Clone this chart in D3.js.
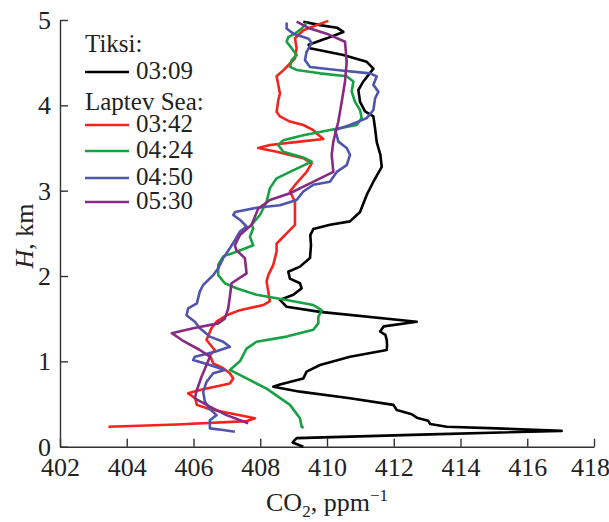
<!DOCTYPE html>
<html>
<head>
<meta charset="utf-8">
<script src="https://cdn.jsdelivr.net/npm/d3@7"></script>
<style>
  body { margin: 0; background: #fff; }
  svg text { font-family: "Liberation Serif", "Times New Roman", serif; fill: #222; }
</style>
</head>
<body>
<svg id="chart" width="609" height="522"></svg>
<script>
// CO2 (ppm) vs height (km)
var tiksi0309 = [
  [409.29,0.00],[408.97,0.05],[409.09,0.10],[413.09,0.145],[417.03,0.185],[415.08,0.215],
  [413.59,0.234],[413.09,0.266],[413.03,0.305],[412.69,0.34],[412.54,0.38],[412.09,0.43],
  [411.99,0.49],[410.69,0.567],[409.19,0.645],[408.39,0.703],[408.59,0.73],[409.29,0.80],
  [409.39,0.88],[409.79,0.957],[410.69,1.055],[411.79,1.133],[411.80,1.19],[411.79,1.25],
  [411.75,1.31],[411.59,1.35],[411.70,1.41],[412.69,1.465],[409.79,1.58],[408.79,1.64],
  [408.59,1.72],[408.99,1.78],[409.24,1.855],[409.19,1.915],[408.89,1.97],[408.84,2.05],
  [409.19,2.11],[409.49,2.21],[409.52,2.36],[409.50,2.48],[409.59,2.55],[410.09,2.60],
  [410.69,2.64],[410.99,2.75],[411.19,2.95],[411.39,3.105],[411.64,3.28],[411.60,3.42],
  [411.49,3.57],[411.44,3.73],[411.39,3.87],[411.14,3.93],[410.99,4.04],[410.94,4.18],
  [411.09,4.28],[411.39,4.43],[411.19,4.51],[410.49,4.59],[409.49,4.67],[409.45,4.71],
  [409.99,4.785],[410.49,4.86],[410.30,4.91],[409.79,4.94],[409.29,4.98]
];
var laptev0342 = [
  [403.45,0.234],[405.50,0.26],[407.60,0.30],[407.84,0.333],[406.49,0.44],[406.10,0.49],
  [406.05,0.57],[405.84,0.625],[406.19,0.665],[407.09,0.74],[407.19,0.80],[407.09,0.86],
  [406.89,0.92],[406.59,0.977],[406.49,1.075],[406.64,1.13],[406.39,1.25],[406.54,1.39],
  [406.69,1.465],[406.99,1.54],[407.39,1.60],[408.09,1.66],[408.29,1.705],[408.24,1.82],
  [408.19,1.935],[408.24,2.01],[408.39,2.13],[408.49,2.285],[408.49,2.38],[408.64,2.44],
  [408.79,2.50],[409.04,2.60],[409.04,2.87],[408.89,2.99],[409.09,3.09],[409.39,3.22],
  [409.54,3.32],[409.29,3.38],[408.49,3.457],[407.94,3.50],[408.29,3.535],[409.19,3.575],
  [409.89,3.605],[409.69,3.67],[409.59,3.71],[409.29,3.77],[408.89,3.81],[408.59,3.87],
  [408.49,3.925],[408.54,4.06],[408.59,4.14],[408.54,4.24],[408.49,4.34],[408.69,4.41],
  [408.84,4.47],[409.04,4.55],[409.09,4.67],[409.04,4.785],[409.29,4.88],[409.69,4.94],
  [410.04,4.99]
];
var laptev0424 = [
  [409.30,0.22],[409.24,0.234],[409.19,0.333],[408.89,0.49],[408.19,0.68],[407.59,0.80],
  [407.09,0.90],[407.39,1.00],[407.59,1.15],[407.89,1.23],[408.79,1.29],[409.59,1.37],
  [409.74,1.445],[409.74,1.52],[409.84,1.60],[409.59,1.66],[408.79,1.72],[407.89,1.78],
  [407.29,1.856],[406.94,1.915],[406.74,2.01],[406.74,2.13],[406.89,2.23],[407.29,2.285],
  [407.79,2.36],[407.69,2.46],[407.79,2.56],[407.74,2.60],[407.99,2.715],[408.19,2.87],
  [408.29,3.03],[408.49,3.145],[408.89,3.22],[409.54,3.34],[409.29,3.39],[408.69,3.457],
  [408.54,3.535],[408.69,3.59],[409.29,3.65],[410.09,3.71],[410.89,3.77],[411.04,3.85],
  [410.99,3.945],[410.84,4.04],[410.74,4.16],[410.79,4.28],[410.59,4.34],[409.79,4.375],
  [409.09,4.415],[408.89,4.45],[408.94,4.53],[409.09,4.59],[408.94,4.67],[408.79,4.745],
  [408.84,4.80],[409.04,4.84],[409.24,4.90],[409.39,4.97]
];
var laptev0450 = [
  [407.24,0.176],[406.89,0.196],[406.49,0.215],[406.49,0.31],[406.69,0.37],[406.49,0.44],
  [406.34,0.53],[406.29,0.645],[406.39,0.76],[406.59,0.86],[406.94,0.90],[406.49,0.957],
  [405.99,1.016],[406.04,1.055],[406.64,1.113],[407.09,1.17],[406.89,1.23],[406.49,1.29],
  [406.19,1.387],[406.04,1.465],[405.79,1.54],[405.84,1.62],[406.10,1.68],[406.19,1.82],
  [406.29,1.895],[406.59,2.01],[406.74,2.09],[406.89,2.21],[407.09,2.325],[407.24,2.42],
  [407.39,2.52],[407.59,2.58],[407.39,2.66],[407.19,2.715],[407.25,2.75],[407.89,2.80],
  [408.59,2.83],[409.09,2.89],[409.29,2.99],[409.59,3.07],[410.09,3.105],[410.29,3.22],
  [410.59,3.30],[410.69,3.42],[410.59,3.50],[410.34,3.575],[410.29,3.65],[410.24,3.71],
  [410.69,3.77],[411.19,3.85],[411.39,3.945],[411.44,4.08],[411.54,4.16],[411.39,4.24],
  [411.49,4.34],[411.29,4.375],[410.29,4.415],[409.49,4.45],[409.34,4.53],[409.39,4.63],
  [409.54,4.73],[409.45,4.78],[409.29,4.80],[408.99,4.84],[408.79,4.90],[408.79,4.97]
];
var laptev0530 = [
  [407.64,0.274],[406.99,0.37],[406.49,0.47],[406.04,0.567],[406.10,0.665],[406.24,0.82],
  [406.39,0.957],[406.49,1.055],[406.19,1.133],[405.65,1.25],[405.35,1.33],[405.99,1.387],
  [406.74,1.445],[406.94,1.50],[407.04,1.62],[407.09,1.76],[407.14,1.915],[407.59,2.03],
  [407.54,2.21],[407.29,2.30],[407.24,2.36],[407.39,2.48],[407.74,2.60],[407.94,2.79],
  [408.29,2.89],[408.89,2.97],[409.49,3.085],[410.19,3.22],[410.14,3.42],[410.19,3.575],
  [410.34,3.81],[410.44,4.04],[410.54,4.28],[410.59,4.51],[410.54,4.745],[409.99,4.84],
  [409.49,4.90],[409.09,4.98]
];

var seriesNames = ["03:09", "03:42", "04:24", "04:50", "05:30"];
var seriesData = [tiksi0309, laptev0342, laptev0424, laptev0450, laptev0530];
var seriesColors = ["#000000", "#f5231c", "#16a142", "#4f55ad", "#862a82"];
var xTicks = [402, 404, 406, 408, 410, 412, 414, 416, 418];
var yTicks = [0, 1, 2, 3, 4, 5];

var svg = d3.select("#chart");
var plotLeft = 60, plotRight = 594, plotTop = 20, plotBottom = 446.7;

var x = d3.scaleLinear().domain([402, 418]).range([plotLeft, plotRight]);
var y = d3.scaleLinear().domain([0, 5]).range([plotBottom, plotTop]);

// axes, ticks pointing inward
var xAxis = svg.append("g")
  .attr("transform", "translate(0," + plotBottom + ")")
  .call(d3.axisBottom(x).tickValues(xTicks).tickFormat(d3.format("d"))
    .tickSizeInner(-8).tickSizeOuter(0).tickPadding(11));
var yAxis = svg.append("g")
  .attr("transform", "translate(" + plotLeft + ",0)")
  .call(d3.axisLeft(y).tickValues(yTicks).tickFormat(d3.format("d"))
    .tickSizeInner(-8).tickSizeOuter(0).tickPadding(9));

[xAxis, yAxis].forEach(function(g) {
  g.selectAll("path, line").attr("stroke", "#333").attr("stroke-width", 1.4);
  g.selectAll("text").style("font-size", "26px").attr("fill", "#222");
});
// last label sits against the page edge
xAxis.selectAll(".tick text").filter(function(d) { return d === 418; }).attr("dx", -4);

// curves
var line = d3.line()
  .x(function(d) { return x(d[0]); })
  .y(function(d) { return y(d[1]); });

seriesData.forEach(function(s, i) {
  svg.append("path")
    .datum(s)
    .attr("d", line)
    .attr("fill", "none")
    .attr("stroke", seriesColors[i])
    .attr("stroke-width", 2.6)
    .attr("stroke-linejoin", "round");
});

// legend
var lg = svg.append("g").style("font-size", "25px");
lg.append("text").attr("x", 85).attr("y", 52).text("Tiksi:");
lg.append("text").attr("x", 85).attr("y", 110).text("Laptev Sea:");
var legendY = [72, 125, 151, 178, 202];
seriesNames.forEach(function(n, i) {
  lg.append("line")
    .attr("x1", 85).attr("x2", 129)
    .attr("y1", legendY[i]).attr("y2", legendY[i])
    .attr("stroke", seriesColors[i]).attr("stroke-width", 2.6);
  lg.append("text").attr("x", 136).attr("y", legendY[i] + 7).text(n);
});

// axis titles
var xt = svg.append("text")
  .attr("x", 327).attr("y", 511)
  .attr("text-anchor", "middle")
  .style("font-size", "26px");
xt.append("tspan").text("CO");
xt.append("tspan").attr("dy", 6).style("font-size", "17px").text("2");
xt.append("tspan").attr("dy", -6).text(", ppm");
xt.append("tspan").attr("dy", -10).style("font-size", "17px").text("\u22121");

var yt = svg.append("text")
  .attr("transform", "translate(33,236) rotate(-90)")
  .attr("text-anchor", "middle")
  .style("font-size", "26px");
yt.append("tspan").style("font-style", "italic").text("H");
yt.append("tspan").text(", km");
</script>
</body>
</html>
